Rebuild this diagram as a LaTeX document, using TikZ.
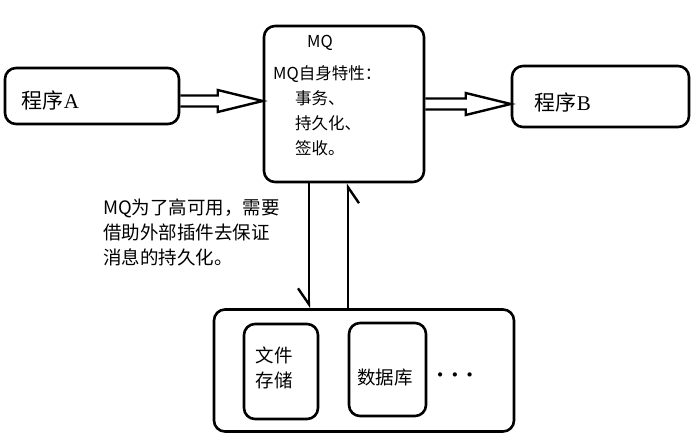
\documentclass[tikz,border=0pt]{standalone}
\usepackage{fontspec}
\setmainfont{Liberation Serif}
\newfontfamily\cjk{Noto Sans CJK SC}
\usepackage{tikz}
\usetikzlibrary{arrows.meta, calc, positioning}

% hollow double-line arrow from the x of #1 to the tip #2
\newcommand{\hollowarrow}[2]{%
  \draw[hollow] let \p1=(#1), \p2=(#2) in
    (\x1,\y2+5.5pt) -- (\x2-45pt,\y2+5.5pt) -- (\x2-45pt,\y2+11pt) -- (\x2,\y2)
    -- (\x2-45pt,\y2-11pt) -- (\x2-45pt,\y2-5.5pt) -- (\x1,\y2-5.5pt);
}

\begin{document}
\begin{tikzpicture}[
    x=1pt, y=-1pt,
    box/.style={draw, line width=2.6pt, rounded corners=11pt, inner sep=0pt},
    big/.style={font=\cjk\fontsize{21}{25}\selectfont, inner sep=0pt},
    mid/.style={font=\cjk\fontsize{18.5}{25}\selectfont, inner sep=0pt, align=left},
    small/.style={font=\cjk\fontsize{16.5}{25}\selectfont, inner sep=0pt, align=left},
    hollow/.style={line width=2.4pt, line join=miter},
    harp/.style={line width=2.4pt, -{Straight Barb[right, length=16pt, width=22pt]}}
]
    \useasboundingbox (0,0) rectangle (694,442);

    % boxes
    \node[box, minimum width=174pt, minimum height=56pt] (progA) at (92,96) {};
    \node[box, minimum width=160pt, minimum height=156pt] (mq) at (344,104) {};
    \node[box, minimum width=177pt, minimum height=61pt] (progB) at (600.5,96.5) {};
    \node[box, minimum width=300pt, minimum height=122pt] (store) at (364,370.5) {};
    \node[box, minimum width=74pt, minimum height=95pt] (file) at (281,371.5) {};
    \node[box, minimum width=77pt, minimum height=93pt] (db) at (387.5,369.5) {};

    % texts
    \node[big, anchor=west] (progAt) at ($(progA.west)+(18,4)$) {程序{\rmfamily A}};
    \node[big, anchor=west] (progBt) at ($(progB.west)+(24,6)$) {程序{\rmfamily B}};
    \node[small] (mqtitle) at (320,43) {MQ};
    \node[small, anchor=west] (mqlist) at (273,110.5)
        {MQ自身特性：\\\hspace*{22pt}事务、\\\hspace*{22pt}持久化、\\\hspace*{22pt}签收。};
    \node[mid, anchor=west] (note) at (103,232)
        {MQ为了高可用，需要\\借助外部插件去保证\\消息的持久化。};
    \node[mid, align=center] (filet) at ($(file)+(-7,-4)$) {文件\\存储};
    \node[mid] (dbt) at ($(db)+(-2.5,8.5)$) {数据库};
    \node[mid] (more) at (455,378)
        {\rmfamily\bfseries\fontsize{26}{26}\selectfont ·\hspace{6pt}·\hspace{6pt}·};

    % connectors
    \hollowarrow{progA.east}{$(mq.west)+(0,-3)$}
    \hollowarrow{mq.east}{mq.east -| progB.west}
    \path ($(mq.south)+(-35,0)$) coordinate (downtop);
    \path ($(mq.south)+(4,0)$) coordinate (uptop);
    \draw[harp] (downtop) -- (downtop |- store.north);
    \draw[harp] (uptop |- store.north) -- (uptop);
\end{tikzpicture}
\end{document}
